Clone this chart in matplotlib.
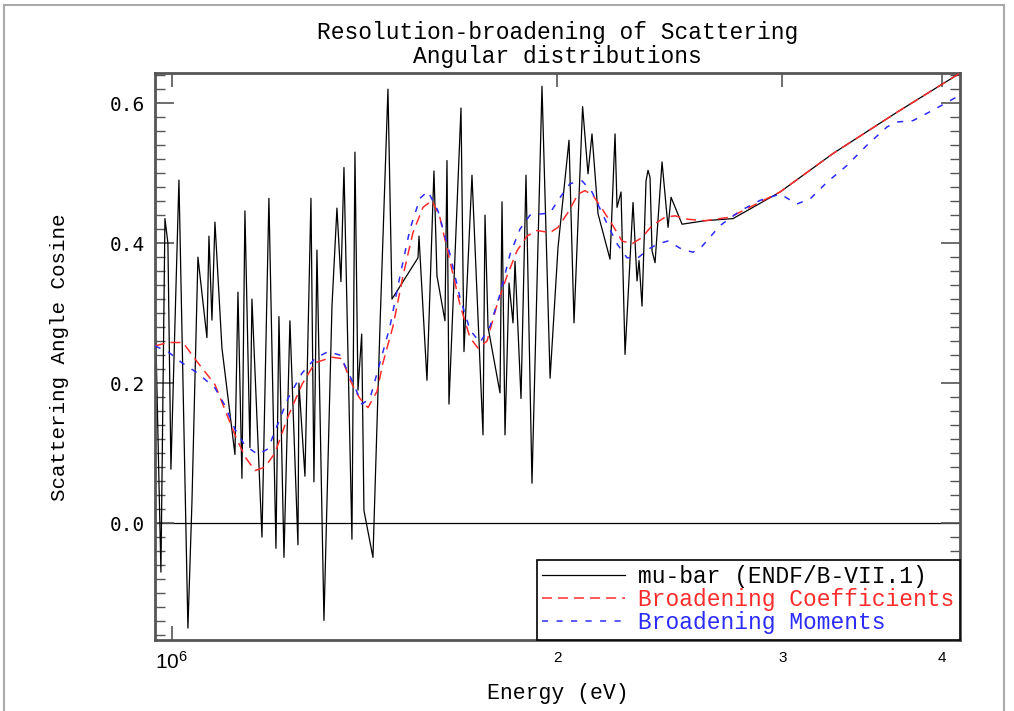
import numpy as np
import matplotlib
matplotlib.use("Agg")
import matplotlib.pyplot as plt
from matplotlib.lines import Line2D
from matplotlib.ticker import FixedLocator, MultipleLocator, NullLocator, FormatStrFormatter

# ---------------- data (energies in MeV) ----------------
mubar_energy_MeV = [
    0.9716, 0.9804, 0.9875, 0.9928, 0.9982, 1.0127, 1.0292, 1.0367, 1.0479, 1.0650,
    1.0689, 1.0747, 1.0805, 1.0942, 1.1201, 1.1262, 1.1343, 1.1404, 1.1507, 1.1549,
    1.1759, 1.1907, 1.2059, 1.2124, 1.2234, 1.2366, 1.2546, 1.2568, 1.2705, 1.2843,
    1.2912, 1.2982, 1.3147, 1.3338, 1.3458, 1.3555, 1.3629, 1.3826, 1.3901, 1.3977,
    1.4071, 1.4128, 1.4359, 1.4541, 1.4752, 1.4859, 1.5571, 1.5599, 1.5655, 1.5825,
    1.6025, 1.6112, 1.6346, 1.6405, 1.6464, 1.6824, 1.6915, 1.7160, 1.7504, 1.7567,
    1.7663, 1.8048, 1.8113, 1.8211, 1.8343, 1.8475, 1.8542, 1.8743, 1.8912, 1.9117,
    1.9464, 1.9750, 2.0034, 2.0434, 2.0619, 2.0940, 2.1145, 2.1297, 2.1529, 2.2000,
    2.2199, 2.2279, 2.2440, 2.2602, 2.2929, 2.3095, 2.3179, 2.3304, 2.3472, 2.3557,
    2.3642, 2.3727, 2.3856, 2.4158, 2.4421, 2.4553, 2.5044, 2.6102, 2.7451, 2.9874,
    3.2864, 3.6877, 4.1231,
]
mubar_value = [
    0.260, -0.070, 0.435, 0.400, 0.077, 0.490, -0.150, 0.030, 0.380, 0.265,
    0.410, 0.290, 0.430, 0.250, 0.098, 0.330, 0.064, 0.446, 0.108, 0.320,
    -0.020, 0.464, -0.036, 0.295, -0.049, 0.289, -0.031, 0.200, 0.067, 0.464,
    0.059, 0.390, -0.139, 0.310, 0.450, 0.345, 0.508, -0.023, 0.530, 0.190,
    0.270, 0.018, -0.049, 0.280, 0.620, 0.320, 0.379, 0.410, 0.358, 0.204,
    0.503, 0.353, 0.289, 0.518, 0.170, 0.593, 0.245, 0.497, 0.126, 0.440,
    0.280, 0.186, 0.459, 0.126, 0.343, 0.286, 0.374, 0.178, 0.497, 0.057,
    0.624, 0.207, 0.394, 0.547, 0.286, 0.595, 0.499, 0.556, 0.442, 0.377,
    0.556, 0.451, 0.473, 0.241, 0.458, 0.346, 0.375, 0.310, 0.489, 0.504,
    0.494, 0.389, 0.372, 0.516, 0.4225, 0.4655, 0.427, 0.432, 0.435, 0.473,
    0.528, 0.587, 0.642,
]

coef_energy_MeV = [
    0.9699, 0.9928, 1.0200, 1.0479, 1.0805, 1.1001, 1.1201, 1.1404, 1.1611, 1.1822,
    1.2037, 1.2322, 1.2636, 1.2935, 1.3338, 1.3580, 1.3777, 1.3901, 1.4027, 1.4230,
    1.4463, 1.4620, 1.4886, 1.5156, 1.5431, 1.5711, 1.5968, 1.6200, 1.6494, 1.6794,
    1.7099, 1.7347, 1.7631, 1.7951, 1.8277, 1.8609, 1.8946, 1.9290, 1.9747, 2.0034,
    2.0434, 2.0768, 2.1031, 2.1336, 2.1685, 2.2079, 2.2480, 2.2888, 2.3304, 2.3727,
    2.4289, 2.4730, 2.5316, 2.6102, 2.7303, 2.9874, 3.2864, 3.6877, 4.1231,
]
coef_value = [
    0.253, 0.258, 0.258, 0.229, 0.198, 0.162, 0.126, 0.095, 0.075, 0.080,
    0.100, 0.152, 0.198, 0.229, 0.237, 0.235, 0.205, 0.190, 0.178, 0.165,
    0.188, 0.229, 0.281, 0.353, 0.415, 0.451, 0.461, 0.436, 0.374, 0.312,
    0.265, 0.250, 0.260, 0.312, 0.353, 0.389, 0.410, 0.418, 0.415, 0.4225,
    0.446, 0.470, 0.475, 0.468, 0.449, 0.427, 0.403, 0.399, 0.408, 0.425,
    0.437, 0.439, 0.434, 0.432, 0.437, 0.473, 0.528, 0.587, 0.642,
]

mom_energy_MeV = [
    0.9699, 0.9928, 1.0182, 1.0479, 1.0805, 1.1001, 1.1201, 1.1404, 1.1674, 1.1886,
    1.2102, 1.2322, 1.2636, 1.2935, 1.3242, 1.3531, 1.3826, 1.4078, 1.4282, 1.4541,
    1.4805, 1.5075, 1.5348, 1.5627, 1.5853, 1.6141, 1.6494, 1.6794, 1.7099, 1.7410,
    1.7726, 1.8048, 1.8376, 1.8709, 1.9049, 1.9747, 2.0034, 2.0471, 2.0918, 2.1297,
    2.1607, 2.1921, 2.2279, 2.2683, 2.3137, 2.3557, 2.3985, 2.4421, 2.5044, 2.5544,
    2.5921, 2.6816, 2.7799, 2.8818, 2.9874, 3.0802, 3.1531, 3.2511, 3.3703, 3.4938,
    3.6219, 3.6877, 3.7955, 3.9346, 4.1083,
]
mom_value = [
    0.253, 0.245, 0.229, 0.214, 0.193, 0.168, 0.134, 0.111, 0.098, 0.106,
    0.142, 0.178, 0.214, 0.235, 0.245, 0.240, 0.204, 0.170, 0.178, 0.229,
    0.281, 0.353, 0.420, 0.464, 0.474, 0.446, 0.384, 0.322, 0.276, 0.258,
    0.281, 0.327, 0.384, 0.420, 0.440, 0.443, 0.461, 0.485, 0.489, 0.473,
    0.449, 0.425, 0.399, 0.379, 0.379, 0.391, 0.399, 0.403, 0.391, 0.387,
    0.394, 0.425, 0.446, 0.461, 0.470, 0.456, 0.463, 0.487, 0.511, 0.540,
    0.566, 0.573, 0.575, 0.590, 0.609,
]

x_ticks_MeV = [1.0, 2.0, 3.0, 4.0]
x_tick_labels = [r"$\mathregular{10^6}$", "2", "3", "4"]
legend_labels = ["mu-bar (ENDF/B-VII.1)", "Broadening Coefficients", "Broadening Moments"]
title_lines = ["Resolution-broadening of Scattering", "Angular distributions"]
x_label = "Energy (eV)"
y_label = "Scattering Angle Cosine"

# ---------------- figure ----------------
MONO = ["Liberation Mono", "DejaVu Sans Mono"]
RED = "#ff2b2b"
BLUE = "#2b2bff"
SPINE = "#555555"

fig = plt.figure(figsize=(10.14, 7.11), dpi=100)
ax = fig.add_axes([155 / 1014, 1 - 640 / 711, 805 / 1014, 567 / 711])
ax.set_xscale("log")

e_black = np.array(mubar_energy_MeV) * 1e6
e_red = np.array(coef_energy_MeV) * 1e6
e_blue = np.array(mom_energy_MeV) * 1e6

ax.axhline(0.0, color="black", lw=0.9, zorder=1)
ax.plot(e_black, mubar_value, color="black", lw=0.9, zorder=2)
ax.plot(e_red, coef_value, color=RED, lw=1.1, dashes=(6.5, 4.0), zorder=3)
ax.plot(e_blue, mom_value, color=BLUE, lw=1.1, dashes=(4.0, 5.5), zorder=4)

ax.set_xlim(0.97e6, 4.13e6)
ax.set_ylim(-0.167, 0.643)

# ticks
ax.xaxis.set_major_locator(FixedLocator([v * 1e6 for v in x_ticks_MeV]))
ax.xaxis.set_minor_locator(NullLocator())
ax.set_xticklabels(x_tick_labels)
ax.tick_params(axis="x", which="major", direction="in", length=10, width=1.2,
               top=True, bottom=True, color=SPINE, pad=8)
for lab, sz in zip(ax.get_xticklabels(), [15, 11, 11, 11]):
    lab.set_fontsize(sz)
    lab.set_fontfamily("Liberation Sans")

ax.yaxis.set_major_locator(MultipleLocator(0.2))
ax.yaxis.set_minor_locator(MultipleLocator(0.02))
ax.yaxis.set_major_formatter(FormatStrFormatter("%.1f"))
ax.tick_params(axis="y", which="major", direction="in", length=14, width=1.2,
               left=True, right=True, color=SPINE, pad=7, labelsize=14)
ax.tick_params(axis="y", which="minor", direction="in", length=7, width=1.0,
               left=True, right=True, color=SPINE)
for lab in ax.get_yticklabels():
    lab.set_fontfamily("DejaVu Sans Mono")

for sp in ax.spines.values():
    sp.set_color(SPINE)
    sp.set_linewidth(2.0)

# labels
fig.text(557.5 / 1014, 1 - 694 / 711, x_label, ha="center", va="center",
         fontsize=15.5, family=MONO)
fig.text(60 / 1014, 1 - 357 / 711, y_label, ha="center", va="center",
         rotation=90, fontsize=15, family=MONO)
fig.text(557.5 / 1014, 1 - 33 / 711, title_lines[0], ha="center", va="center",
         fontsize=16.5, family=MONO)
fig.text(557.5 / 1014, 1 - 56 / 711, title_lines[1], ha="center", va="center",
         fontsize=16.5, family=MONO)

# legend
handles = [
    Line2D([], [], color="black", lw=0.9),
    Line2D([], [], color=RED, lw=1.1, dashes=(6.5, 4.0)),
    Line2D([], [], color=BLUE, lw=1.1, dashes=(4.0, 5.5)),
]
leg = ax.legend(handles, legend_labels, loc="lower right", borderaxespad=0.0,
                prop={"family": MONO, "size": 16.5}, handlelength=3.6,
                handletextpad=0.57, labelspacing=0.0, borderpad=0.25,
                fancybox=False, framealpha=1.0, edgecolor="black",
                labelcolor=["black", RED, BLUE])
leg.get_frame().set_linewidth(1.2)

# outer page frame
for coords in ([(4, 1004), (5, 5)], [(4, 4), (5, 711)], [(1004, 1004), (5, 711)]):
    fig.add_artist(Line2D([c / 1014 for c in coords[0]], [1 - c / 711 for c in coords[1]],
                          color="#aaaaaa", lw=1.5))

fig.savefig("out.png", dpi=100)
